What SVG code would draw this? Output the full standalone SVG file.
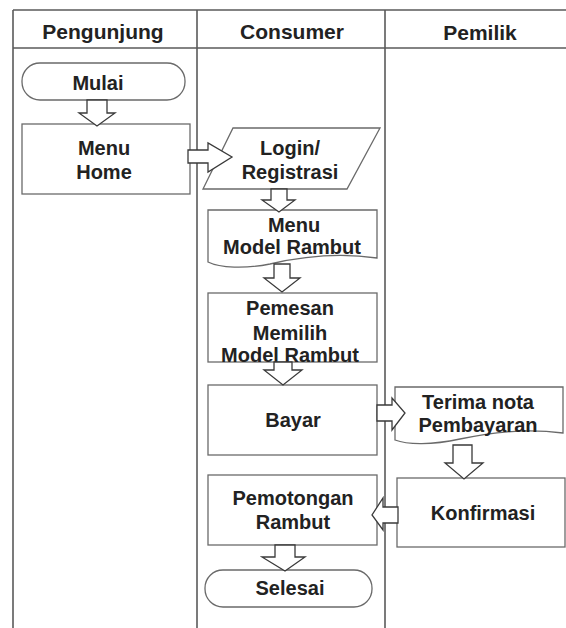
<svg xmlns="http://www.w3.org/2000/svg" width="566" height="628" viewBox="0 0 566 628">
<style>
  .grid { stroke: #5a5a5a; stroke-width: 1.6; fill: none; }
  .shape { fill: #fff; stroke: #6a6a6a; stroke-width: 1.3; }
  .arrow { fill: #fff; stroke: #3a3a3a; stroke-width: 1.3; stroke-linejoin: miter; }
  text { font-family: "Liberation Sans", Arial, sans-serif; font-weight: bold; fill: #222; text-anchor: middle; }
  .hdr { font-size: 21px; }
  .lbl { font-size: 20px; }
</style>
<rect width="566" height="628" fill="#fff"/>
<g id="lanes">
  <line class="grid" x1="13" y1="10" x2="566" y2="10"/>
  <line class="grid" x1="13" y1="48" x2="566" y2="48"/>
  <line class="grid" x1="13" y1="10" x2="13" y2="628"/>
  <line class="grid" x1="197" y1="10" x2="197" y2="628"/>
  <line class="grid" x1="385" y1="10" x2="385" y2="628"/>
  <text class="hdr" x="103" y="39">Pengunjung</text>
  <text class="hdr" x="292" y="39">Consumer</text>
  <text class="hdr" x="480" y="40">Pemilik</text>
</g>
<g id="mulai">
  <rect class="shape" x="22" y="63" width="163" height="37" rx="18" ry="18"/>
  <text class="lbl" x="98" y="90">Mulai</text>
</g>
<g id="menu-home">
  <rect class="shape" x="22" y="124" width="168" height="70"/>
  <text class="lbl" x="104" y="155">Menu</text>
  <text class="lbl" x="104" y="179">Home</text>
</g>
<g id="login">
  <polygon class="shape" points="233,128 380,128 347,189 203,189"/>
  <text class="lbl" x="290" y="155">Login/</text>
  <text class="lbl" x="290" y="179">Registrasi</text>
</g>
<g id="menu-model">
  <path class="shape" d="M208,210 H377 V258 C335,252 300,257 270,264 C245,269 220,268 208,262 Z"/>
  <text class="lbl" x="294" y="232">Menu</text>
  <text class="lbl" x="292" y="254">Model Rambut</text>
</g>
<g id="pemesan">
  <rect class="shape" x="208" y="293" width="169" height="69"/>
  <text class="lbl" x="290" y="315">Pemesan</text>
  <text class="lbl" x="290" y="340">Memilih</text>
  <text class="lbl" x="290" y="362">Model Rambut</text>
</g>
<g id="bayar">
  <rect class="shape" x="208" y="385" width="169" height="70"/>
  <text class="lbl" x="293" y="427">Bayar</text>
</g>
<g id="terima">
  <path class="shape" d="M395,387 H563 V433 C522,428 490,433 460,439 C432,445 408,445 395,440 Z"/>
  <text class="lbl" x="478" y="409">Terima nota</text>
  <text class="lbl" x="478" y="432">Pembayaran</text>
</g>
<g id="konfirmasi">
  <rect class="shape" x="397" y="478" width="168" height="69"/>
  <text class="lbl" x="483" y="520">Konfirmasi</text>
</g>
<g id="pemotongan">
  <rect class="shape" x="208" y="475" width="169" height="70"/>
  <text class="lbl" x="293" y="505">Pemotongan</text>
  <text class="lbl" x="293" y="529">Rambut</text>
</g>
<g id="selesai">
  <rect class="shape" x="205" y="570" width="167" height="37" rx="18" ry="18"/>
  <text class="lbl" x="290" y="595">Selesai</text>
</g>
<g id="connectors">
  <polygon class="arrow" points="87,100 107,100 107,113 115,113 97,126 79,113 87,113"/>
  <polygon class="arrow" points="188,150 208,150 208,143 232,157 208,172 208,163 188,163"/>
  <polygon class="arrow" points="271,189 287,189 287,200 295,200 279,212 262,200 271,200"/>
  <polygon class="arrow" points="274,264 290,264 290,278 300,278 282,292 264,278 274,278"/>
  <polygon class="arrow" points="274,362 292,362 292,370 302,370 283,385 264,370 274,370"/>
  <polygon class="arrow" points="377,405 392,405 392,398 405,413 392,430 392,421 377,421"/>
  <polygon class="arrow" points="453,445 472,445 472,463 483,463 464,479 445,463 453,463"/>
  <polygon class="arrow" points="398,507 383,507 383,498 372,515 383,530 383,523 398,523"/>
  <polygon class="arrow" points="275,545 295,545 295,557 305,557 285,571 262,557 275,557"/>
</g>
</svg>
